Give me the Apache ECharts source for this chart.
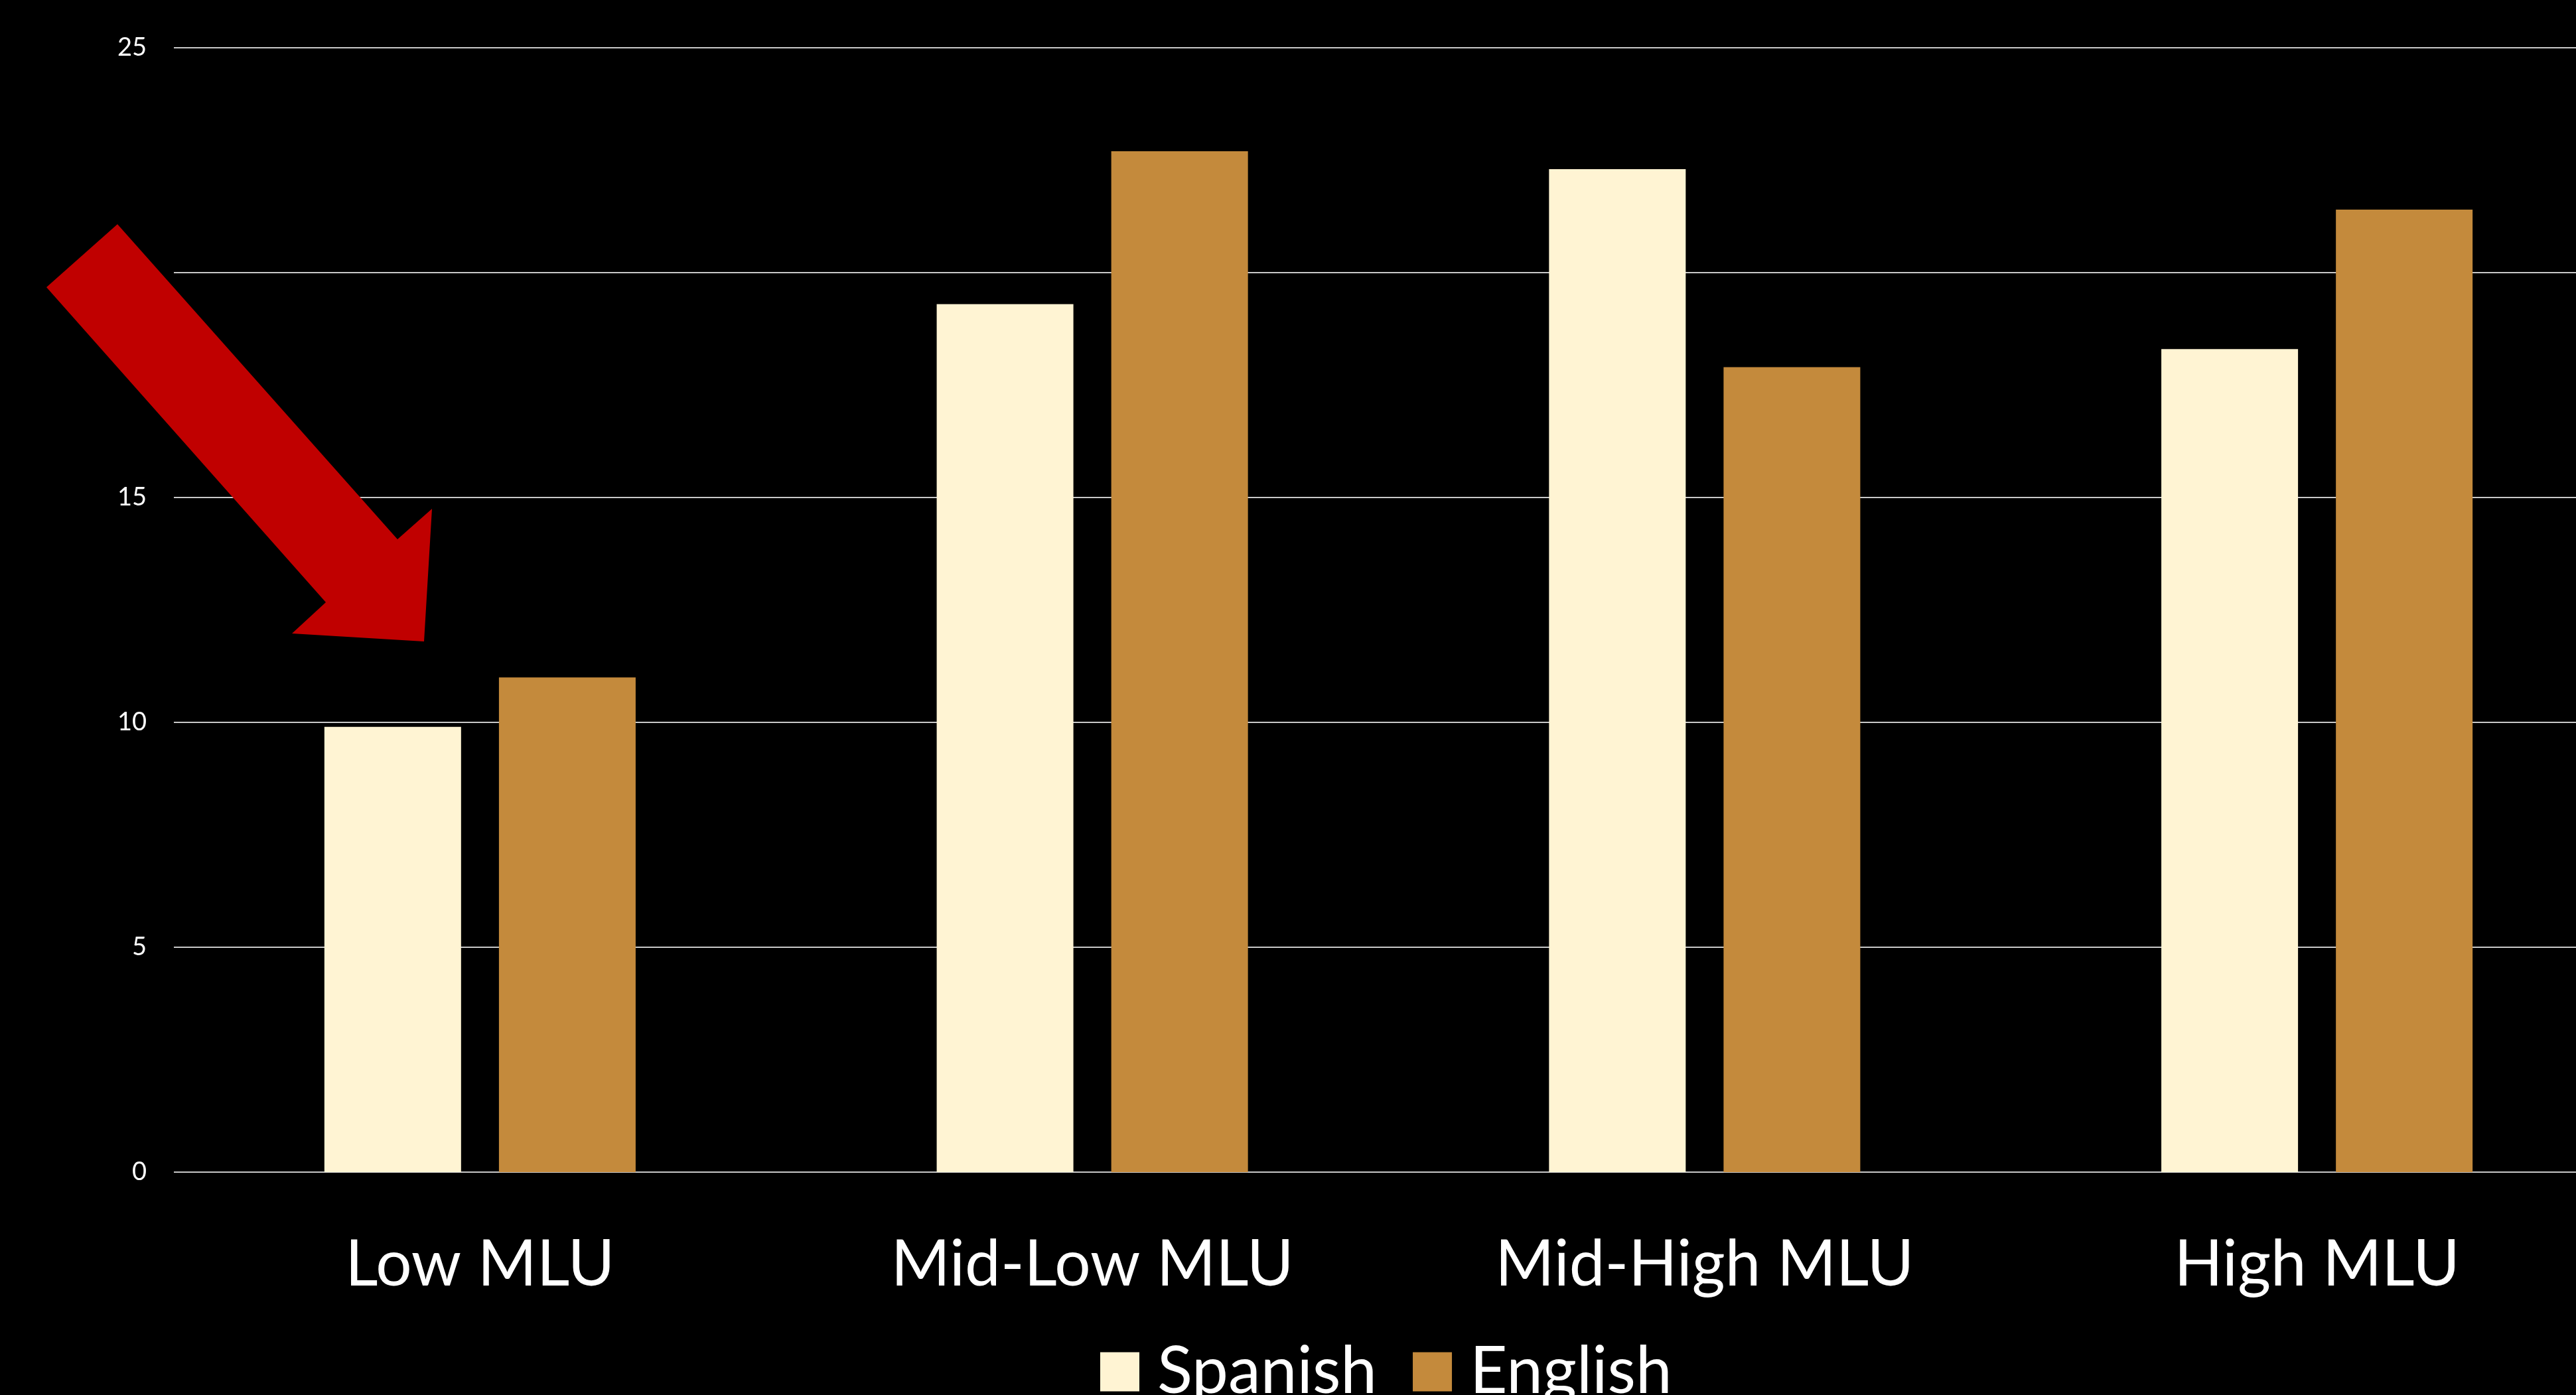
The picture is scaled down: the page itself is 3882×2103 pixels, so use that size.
<!DOCTYPE html>
<html>
<head>
<meta charset="utf-8">
<script src="https://cdn.jsdelivr.net/npm/echarts@6/dist/echarts.min.js"></script>
<style>
  html, body { margin: 0; padding: 0; background: #000; }
  #chart { width: 3882px; height: 2103px; }
</style>
</head>
<body>
<div id="chart"></div>
<script>
const categories = ['Low MLU', 'Mid-Low MLU', 'Mid-High MLU', 'High MLU'];
const spanish = [9.9, 19.3, 22.3, 18.3];
const english = [11.0, 22.7, 17.9, 21.4];
const seriesNames = ['Spanish', 'English'];
const yTicks = { min: 0, max: 25, interval: 5 };

const FONT = 'Lato, "Open Sans", sans-serif';
const chart = echarts.init(document.getElementById('chart'), null, { renderer: 'canvas' });

chart.setOption({
  backgroundColor: '#000000',
  animation: false,
  textStyle: { fontFamily: FONT },
  grid: { left: 262, top: 72, width: 3691, bottom: 336, containLabel: false, outerBoundsMode: 'none' },
  legend: {
    data: seriesNames,
    left: 1653,
    top: 2014,
    itemWidth: 59,
    itemHeight: 59,
    itemGap: 54,
    icon: 'rect',
    textStyle: { color: '#ffffff', fontSize: 98, fontFamily: FONT, padding: [0, 0, 0, 22] }
  },
  xAxis: {
    type: 'category',
    data: categories,
    axisLine: { show: false },
    axisTick: { show: false },
    axisLabel: { color: '#ffffff', fontSize: 96, fontFamily: FONT, margin: 92 }
  },
  yAxis: {
    type: 'value',
    min: yTicks.min,
    max: yTicks.max,
    interval: yTicks.interval,
    axisLine: { show: false },
    axisTick: { show: false },
    axisLabel: { color: '#ffffff', fontSize: 38, fontFamily: FONT, margin: 41 },
    splitLine: { show: true, lineStyle: { color: '#c8c8c8', width: 2 } }
  },
  series: [
    {
      name: seriesNames[0], type: 'bar', data: spanish,
      barWidth: 206, barGap: '27.7%',
      itemStyle: { color: '#FFF4D3' }
    },
    {
      name: seriesNames[1], type: 'bar', data: english,
      barWidth: 206, barGap: '27.7%',
      itemStyle: { color: '#C48A3C' }
    }
  ],
  graphic: [
    {
      type: 'polygon',
      z: 100,
      shape: { points: [[177, 338], [70, 433], [491, 908], [440, 955], [639, 967], [651, 767], [599, 813]] },
      style: { fill: '#C00000' }
    }
  ]
});
</script>
</body>
</html>
